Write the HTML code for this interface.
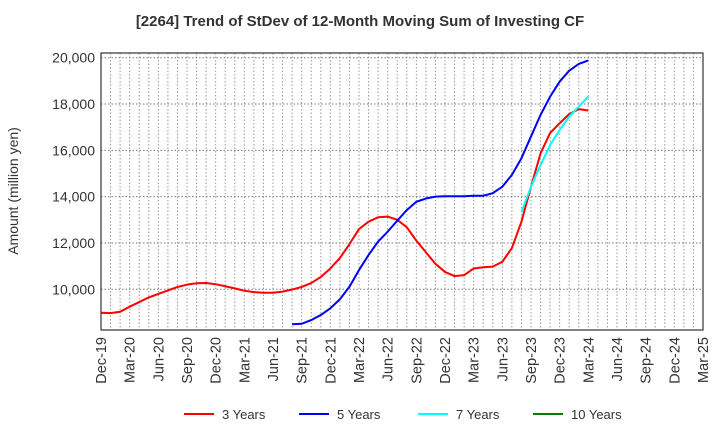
<!DOCTYPE html>
<html><head><meta charset="utf-8"><style>
body{margin:0;background:#fff;font-family:"Liberation Sans",sans-serif}
svg text{font-family:"Liberation Sans",sans-serif;fill:#333}
</style></head><body>
<svg id="chart" width="720" height="440">
<text x="360" y="26" text-anchor="middle" font-size="15" font-weight="bold">[2264]  Trend of StDev of 12-Month Moving Sum of Investing CF</text>
<text transform="translate(18,191) rotate(-90)" text-anchor="middle" font-size="14">Amount (million yen)</text>
<g id="grid"></g>
<g id="series"></g>
<rect x="101" y="53" width="602" height="277" fill="none" stroke="#333" stroke-width="1.2"/>
<g id="legend"></g>
</svg>
<script>
const xLabels=["Dec-19","Mar-20","Jun-20","Sep-20","Dec-20","Mar-21","Jun-21","Sep-21","Dec-21","Mar-22","Jun-22","Sep-22","Dec-22","Mar-23","Jun-23","Sep-23","Dec-23","Mar-24","Jun-24","Sep-24","Dec-24","Mar-25"];
const yTicks=[10000,12000,14000,16000,18000,20000];
const seriesNames=["3 Years","5 Years","7 Years","10 Years"];
const seriesColors=["#ff0000","#0000ff","#00ffff","#008000"];
const red=[8990,8970,9030,9250,9450,9650,9800,9950,10100,10200,10260,10270,10220,10130,10040,9940,9880,9850,9850,9900,9990,10100,10270,10530,10900,11350,11950,12600,12920,13110,13140,13000,12680,12100,11600,11100,10750,10570,10610,10900,10950,10980,11190,11780,12920,14430,15870,16750,17170,17570,17780,17720];
const blueStart=20;
const blue=[8490,8510,8670,8890,9180,9570,10110,10830,11480,12060,12490,12960,13420,13780,13920,14000,14020,14020,14020,14040,14040,14150,14430,14940,15660,16600,17530,18320,18970,19440,19730,19880];
const cyanStart=44;
const cyan=[13330,14430,15370,16230,16880,17460,17890,18320];
const X0=101,X1=703,Y0=53,Y1=330;
const xs=m=>X0+m*(X1-X0)/63;
const ys=v=>289.3-(v-10000)*(231.6/10000);
const NS="http://www.w3.org/2000/svg";
const svg=document.getElementById('chart'),grid=document.getElementById('grid'),ser=document.getElementById('series'),leg=document.getElementById('legend');
function mk(t,a,p){const e=document.createElementNS(NS,t);for(const k in a)e.setAttribute(k,a[k]);p.appendChild(e);return e;}
for(let m=1;m<63;m++){const l=mk('line',{x1:xs(m),x2:xs(m),y1:Y0,y2:Y1,stroke:'#999','stroke-dasharray':'1.5,2','stroke-width':1},grid);

}
yTicks.forEach(v=>{const l=mk('line',{x1:X0,x2:X1,y1:ys(v),y2:ys(v),stroke:'#777','stroke-dasharray':'1.5,2','stroke-width':1},grid);


const t=mk('text',{x:X0-6,y:ys(v)+5,'text-anchor':'end','font-size':14},svg);t.textContent=v.toLocaleString('en-US');

});
xLabels.forEach((s,i)=>{const x=xs(i*3);const t=mk('text',{transform:`translate(${x+5},337) rotate(-90)`,'text-anchor':'end','font-size':14.5},svg);t.textContent=s;

});
function line(arr,start,color,name){const p=mk('polyline',{points:arr.map((v,i)=>xs(start+i)+','+ys(v)).join(' '),fill:'none',stroke:color,'stroke-width':2,'stroke-linejoin':'round'},ser);

}
line(red,0,seriesColors[0],'line-3-years');
line(blue,blueStart,seriesColors[1],'line-5-years');
line(cyan,cyanStart,seriesColors[2],'line-7-years');
const lx=[184,299,418,533];
seriesNames.forEach((n,i)=>{const g=mk('g',{},leg);


mk('line',{x1:lx[i],x2:lx[i]+30,y1:414,y2:414,stroke:seriesColors[i],'stroke-width':2},g);
const t=mk('text',{x:lx[i]+38,y:419,'font-size':13},g);t.textContent=n;});
</script>
</body></html>
